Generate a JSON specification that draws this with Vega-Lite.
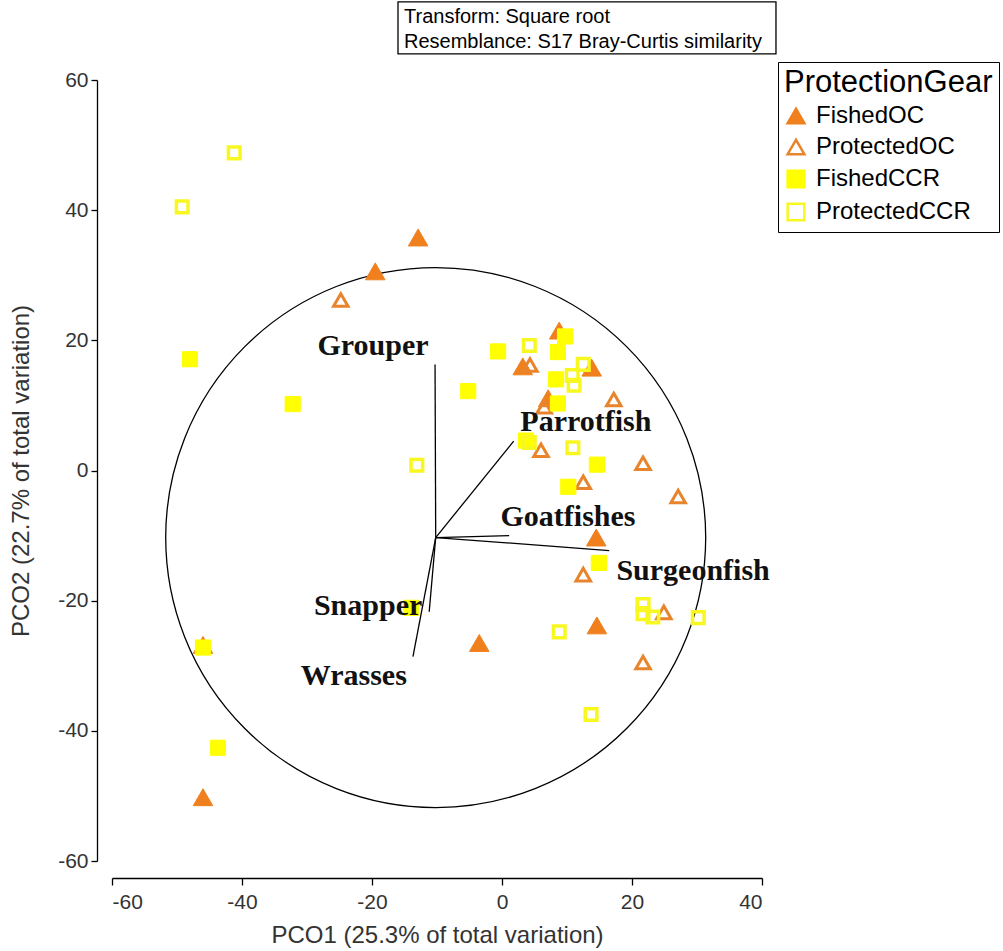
{
  "$schema": "https://vega.github.io/schema/vega-lite/v6.json",
  "autosize": "none",
  "width": 650,
  "height": 781,
  "padding": {"left": 112, "top": 80, "right": 241, "bottom": 90},
  "background": "white",
  "config": {
    "view": {"stroke": null},
    "font": "Liberation Sans",
    "axis": {
      "grid": false,
      "domainColor": "black",
      "domainWidth": 1.3,
      "tickColor": "black",
      "tickWidth": 1.3,
      "labelFont": "Liberation Sans",
      "labelFontSize": 21,
      "labelColor": "#333333",
      "titleFont": "Liberation Sans",
      "titleFontSize": 24,
      "titleFontWeight": "normal",
      "titleColor": "#333333",
      "labelExpr": "replace(datum.label, '\u2212', '-')"
    },
    "legend": {
      "strokeColor": "black",
      "padding": 6,
      "titleFont": "Liberation Sans",
      "titleFontSize": 31,
      "titleFontWeight": "normal",
      "titleColor": "black",
      "titlePadding": 5,
      "titleLimit": 0,
      "labelFont": "Liberation Sans",
      "labelFontSize": 24,
      "labelColor": "black",
      "labelLimit": 0,
      "labelOffset": 8,
      "rowPadding": 5,
      "symbolSize": 280,
      "symbolStrokeWidth": 2.5
    }
  },
  "title": {
    "text": ["Transform: Square root", "Resemblance: S17 Bray-Curtis similarity"],
    "anchor": "start",
    "frame": "group",
    "dx": 292,
    "dy": 71,
    "baseline": "bottom",
    "offset": 0,
    "font": "Liberation Sans",
    "fontSize": 20,
    "fontWeight": "normal",
    "color": "black",
    "lineHeight": 25
  },
  "datasets": {
    "circle": [{"x": -10.2, "y": -10.3}],
    "vectors": [
      {"species": "Grouper", "x0": -10.2, "y0": -10.3, "x": -10.3, "y": 16.3, "lx": -19.85, "ly": 19.2},
      {"species": "Parrotfish", "x0": -10.2, "y0": -10.3, "x": 1.8, "y": 4.5, "lx": 12.9, "ly": 7.5},
      {"species": "Goatfishes", "x0": -10.2, "y0": -10.3, "x": 1.1, "y": -10.0, "lx": 10.15, "ly": -7.1},
      {"species": "Surgeonfish", "x0": -10.2, "y0": -10.3, "x": 16.5, "y": -12.3, "lx": 29.4, "ly": -15.4},
      {"species": "Snapper", "x0": -10.2, "y0": -10.3, "x": -11.2, "y": -21.7, "lx": -20.6, "ly": -20.8},
      {"species": "Wrasses", "x0": -10.2, "y0": -10.3, "x": -13.7, "y": -28.6, "lx": -22.8, "ly": -31.5}
    ],
    "samples": [
      {"group": "FishedOC", "x": -12.9, "y": 35.8},
      {"group": "FishedOC", "x": -19.5, "y": 30.6},
      {"group": "FishedOC", "x": 8.8, "y": 21.5},
      {"group": "FishedOC", "x": 3.2, "y": 16.0},
      {"group": "FishedOC", "x": 13.8, "y": 15.8},
      {"group": "FishedOC", "x": 7.1, "y": 11.1},
      {"group": "FishedOC", "x": 14.5, "y": -10.3},
      {"group": "FishedOC", "x": 14.6, "y": -23.8},
      {"group": "FishedOC", "x": -3.5, "y": -26.5},
      {"group": "FishedOC", "x": -46.0, "y": -50.2},
      {"group": "FishedOC", "x": -46.0, "y": -26.8},
      {"group": "ProtectedOC", "x": -24.8, "y": 26.2},
      {"group": "ProtectedOC", "x": 4.3, "y": 16.2},
      {"group": "ProtectedOC", "x": 6.5, "y": 9.8},
      {"group": "ProtectedOC", "x": 17.2, "y": 10.9},
      {"group": "ProtectedOC", "x": 6.0, "y": 3.1},
      {"group": "ProtectedOC", "x": 12.5, "y": -1.8},
      {"group": "ProtectedOC", "x": 21.7, "y": 1.1},
      {"group": "ProtectedOC", "x": 27.1, "y": -4.0},
      {"group": "ProtectedOC", "x": 12.5, "y": -16.0},
      {"group": "ProtectedOC", "x": 24.9, "y": -21.8},
      {"group": "ProtectedOC", "x": 21.7, "y": -29.5},
      {"group": "FishedCCR", "x": -48.0, "y": 17.1},
      {"group": "FishedCCR", "x": -32.2, "y": 10.2},
      {"group": "FishedCCR", "x": -5.2, "y": 12.2},
      {"group": "FishedCCR", "x": -0.6, "y": 18.3},
      {"group": "FishedCCR", "x": 9.7, "y": 20.6},
      {"group": "FishedCCR", "x": 8.6, "y": 18.2},
      {"group": "FishedCCR", "x": 8.3, "y": 14.0},
      {"group": "FishedCCR", "x": 8.6, "y": 10.3},
      {"group": "FishedCCR", "x": 14.6, "y": 0.9},
      {"group": "FishedCCR", "x": 10.2, "y": -2.5},
      {"group": "FishedCCR", "x": 14.9, "y": -14.2},
      {"group": "FishedCCR", "x": -14.0, "y": -21.1},
      {"group": "FishedCCR", "x": -46.0, "y": -27.2},
      {"group": "FishedCCR", "x": -43.7, "y": -42.6},
      {"group": "FishedCCR", "x": 3.7, "y": 4.6},
      {"group": "ProtectedCCR", "x": -41.2, "y": 48.8},
      {"group": "ProtectedCCR", "x": -49.2, "y": 40.5},
      {"group": "ProtectedCCR", "x": 4.2, "y": 19.2},
      {"group": "ProtectedCCR", "x": 12.5, "y": 16.3},
      {"group": "ProtectedCCR", "x": 10.8, "y": 14.6},
      {"group": "ProtectedCCR", "x": 11.1, "y": 13.1},
      {"group": "ProtectedCCR", "x": -13.1, "y": 0.8},
      {"group": "ProtectedCCR", "x": 4.2, "y": 4.3},
      {"group": "ProtectedCCR", "x": 10.9, "y": 3.5},
      {"group": "ProtectedCCR", "x": 21.7, "y": -20.6},
      {"group": "ProtectedCCR", "x": 21.7, "y": -22.0},
      {"group": "ProtectedCCR", "x": 23.2, "y": -22.5},
      {"group": "ProtectedCCR", "x": 30.2, "y": -22.6},
      {"group": "ProtectedCCR", "x": 8.8, "y": -24.8},
      {"group": "ProtectedCCR", "x": 13.7, "y": -37.5}
    ]
  },
  "layer": [
    {
      "data": {"name": "circle"},
      "mark": {"type": "point", "shape": "circle", "filled": false, "size": 291600, "stroke": "black", "strokeWidth": 1.3, "opacity": 1},
      "encoding": {
        "x": {
          "field": "x",
          "type": "quantitative",
          "scale": {"domain": [-60, 40], "nice": false, "zero": false},
          "axis": {
            "title": "PCO1 (25.3% of total variation)",
            "values": [-60, -40, -20, 0, 20, 40],
            "offset": 17,
            "tickSize": 7,
            "labelPadding": 6,
            "titlePadding": 11
          }
        },
        "y": {
          "field": "y",
          "type": "quantitative",
          "scale": {"domain": [-60, 60], "nice": false, "zero": false},
          "axis": {
            "title": "PCO2 (22.7% of total variation)",
            "values": [-60, -40, -20, 0, 20, 40, 60],
            "offset": 15,
            "tickSize": 6,
            "labelPadding": 3,
            "titlePadding": 24
          }
        }
      }
    },
    {
      "data": {"name": "vectors"},
      "mark": {"type": "rule", "stroke": "black", "strokeWidth": 1.3},
      "encoding": {
        "x": {"field": "x", "type": "quantitative"},
        "y": {"field": "y", "type": "quantitative"},
        "x2": {"field": "x0"},
        "y2": {"field": "y0"}
      }
    },
    {
      "data": {"name": "samples"},
      "mark": {"type": "point", "opacity": 1},
      "encoding": {
        "x": {"field": "x", "type": "quantitative"},
        "y": {"field": "y", "type": "quantitative"},
        "shape": {
          "field": "group", "type": "nominal", "title": "ProtectionGear",
          "scale": {"domain": ["FishedOC", "ProtectedOC", "FishedCCR", "ProtectedCCR"], "range": ["triangle-up", "triangle-up", "square", "square"]},
          "legend": {"orient": "none", "legendX": 666, "legendY": -18}
        },
        "fill": {
          "field": "group", "type": "nominal", "title": "ProtectionGear",
          "scale": {"domain": ["FishedOC", "ProtectedOC", "FishedCCR", "ProtectedCCR"], "range": ["#F0801E", "transparent", "#FFFF00", "transparent"]}
        },
        "stroke": {
          "field": "group", "type": "nominal", "title": "ProtectionGear",
          "scale": {"domain": ["FishedOC", "ProtectedOC", "FishedCCR", "ProtectedCCR"], "range": ["#F0801E", "#E8842C", "#FFFF00", "#F8F820"]}
        },
        "size": {
          "condition": [
            {"test": "datum.group === 'FishedOC'", "value": 380},
            {"test": "datum.group === 'ProtectedOC'", "value": 210},
            {"test": "datum.group === 'FishedCCR'", "value": 230}
          ],
          "value": 135
        },
        "strokeWidth": {
          "condition": [
            {"test": "datum.group === 'FishedOC'", "value": 1},
            {"test": "datum.group === 'ProtectedOC'", "value": 3},
            {"test": "datum.group === 'FishedCCR'", "value": 1}
          ],
          "value": 3.5
        }
      }
    },
    {
      "data": {"name": "vectors"},
      "mark": {"type": "text", "font": "Liberation Serif", "fontWeight": "bold", "fontSize": 30, "color": "#111111", "align": "center", "baseline": "middle"},
      "encoding": {
        "x": {"field": "lx", "type": "quantitative"},
        "y": {"field": "ly", "type": "quantitative"},
        "text": {"field": "species"}
      }
    },
    {
      "data": {"values": [{"a": 1}]},
      "mark": {"type": "rect", "filled": false, "color": "black", "strokeWidth": 1.3},
      "encoding": {
        "x": {"datum": -16.0, "type": "quantitative"},
        "x2": {"datum": 42.15},
        "y": {"datum": 72.0, "type": "quantitative"},
        "y2": {"datum": 64.0}
      }
    }
  ]
}
